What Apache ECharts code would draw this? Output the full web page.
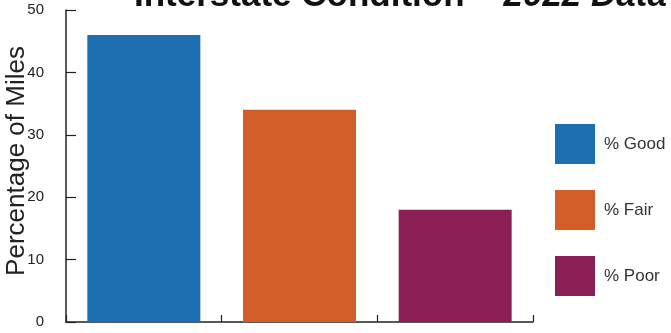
<!DOCTYPE html>
<html>
<head>
<meta charset="utf-8">
<style>html,body{margin:0;padding:0;background:#fff;}#c{width:671px;height:333px;}</style>
<script src="https://cdn.jsdelivr.net/npm/echarts@6/dist/echarts.min.js"></script>
</head>
<body>
<div id="c"></div>
<script>
const categories = ['Good', 'Fair', 'Poor'];
const seriesNames = ['% Good', '% Fair', '% Poor'];
const values = [46, 34, 18];
const colors = ['#1c6fb1', '#d35e27', '#891f55'];
const yTicks = [0, 10, 20, 30, 40, 50];

const chart = echarts.init(document.getElementById('c'));
const series = seriesNames.map((name, i) => ({
  name: name,
  type: 'bar',
  stack: 'one',
  barWidth: 113,
  itemStyle: { color: colors[i] },
  data: categories.map((c, j) => (j === i ? values[i] : null))
}));

chart.setOption({
  animation: false,
  textStyle: { fontFamily: 'Liberation Sans, Arial, sans-serif' },
  title: {
    text: '{a|Interstate Condition – }{b|2022 Data}',
    left: 129,
    top: -26,
    textStyle: {
      rich: {
        a: { fontFamily: 'Liberation Sans', fontWeight: 'bold', fontSize: 35, color: '#111' },
        b: { fontFamily: 'Liberation Sans', fontWeight: 'bold', fontStyle: 'italic', fontSize: 35, color: '#111' }
      }
    }
  },
  legend: {
    orient: 'vertical',
    left: 555,
    top: 124,
    padding: 0,
    icon: 'rect',
    itemWidth: 40,
    itemHeight: 40,
    itemGap: 26,
    data: seriesNames,
    textStyle: { fontFamily: 'Liberation Sans', fontSize: 17, color: '#333', padding: [0, 0, 0, 4] }
  },
  grid: { left: 66, right: 138, top: 10, bottom: 11, containLabel: false, outerBoundsMode: 'none' },
  xAxis: {
    type: 'category',
    data: categories,
    axisLine: { show: true, lineStyle: { color: '#222', width: 1.5 } },
    axisTick: { show: true, inside: true, length: 7, lineStyle: { color: '#222', width: 1.2 } },
    axisLabel: { show: false },
    splitLine: { show: false }
  },
  yAxis: {
    type: 'value',
    min: yTicks[0],
    max: yTicks[yTicks.length - 1],
    interval: 10,
    name: 'Percentage of Miles',
    nameLocation: 'middle',
    nameGap: 36,
    nameMoveOverlap: false,
    nameTextStyle: { fontFamily: 'Liberation Sans', fontSize: 26, color: '#222', padding: [0, 0, 0, 10] },
    axisLine: { show: true, lineStyle: { color: '#222', width: 1.5 } },
    axisTick: { show: true, inside: true, length: 10, lineStyle: { color: '#222', width: 1.2 } },
    axisLabel: { margin: 22, fontFamily: 'Liberation Sans', fontSize: 15, color: '#222' },
    splitLine: { show: false }
  },
  series: series
});
</script>
</body>
</html>
